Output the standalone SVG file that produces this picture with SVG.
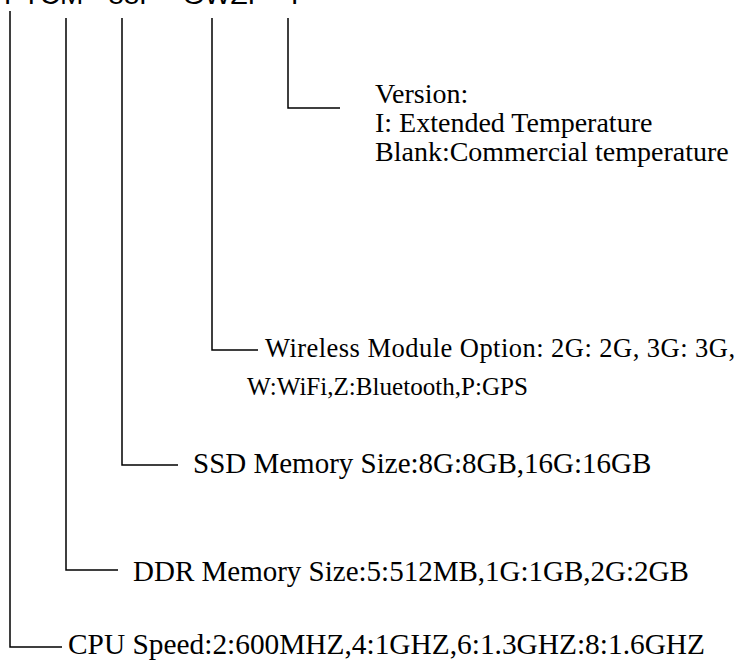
<svg xmlns="http://www.w3.org/2000/svg" width="738" height="661" viewBox="0 0 738 661">
<style>
.t{font-family:"Liberation Serif","Times New Roman",serif;fill:#000}
.title{font-family:"Liberation Sans",Arial,sans-serif;font-size:28px;fill:#000}
.c{fill:none;stroke:#000;stroke-width:1.5}
</style>
<rect width="738" height="661" fill="#fff"/>
<text class="title" x="4" y="4" xml:space="preserve">PTCM - 88P - GWZP - I</text>
<g id="connectors">
<polyline class="c" points="10,11 10,647 62,647"/>
<polyline class="c" points="66,18 66,570 118,570"/>
<polyline class="c" points="122,18 122,465 178,465"/>
<polyline class="c" points="212,18 212,350 258,350"/>
<polyline class="c" points="288,18 288,108 340,108"/>
</g>
<g id="version">
<text class="t" font-size="28" x="375" y="103">Version:</text>
<text class="t" font-size="28" x="375" y="132">I: Extended Temperature</text>
<text class="t" font-size="28" x="375" y="161">Blank:Commercial temperature</text>
</g>
<g id="wireless">
<text class="t" font-size="26.5" x="265" y="357" textLength="470" lengthAdjust="spacing">Wireless Module Option: 2G: 2G, 3G: 3G,</text>
<text class="t" font-size="26" x="247" y="395" textLength="281" lengthAdjust="spacingAndGlyphs">W:WiFi,Z:Bluetooth,P:GPS</text>
</g>
<g id="ssd">
<text class="t" font-size="29" x="193" y="473">SSD Memory Size:8G:8GB,16G:16GB</text>
</g>
<g id="ddr">
<text class="t" font-size="29" x="133" y="581">DDR Memory Size:5:512MB,1G:1GB,2G:2GB</text>
</g>
<g id="cpu">
<text class="t" font-size="29" x="68" y="654" textLength="637" lengthAdjust="spacingAndGlyphs">CPU Speed:2:600MHZ,4:1GHZ,6:1.3GHZ:8:1.6GHZ</text>
</g>
</svg>
